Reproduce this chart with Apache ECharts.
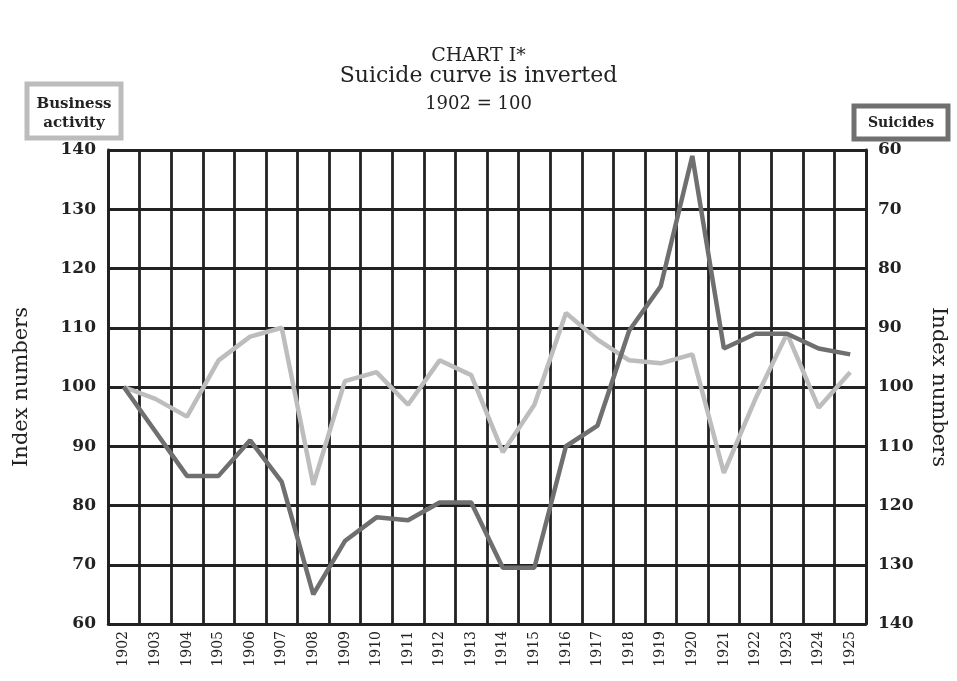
<!DOCTYPE html>
<html>
<head>
<meta charset="utf-8">
<script src="https://cdn.jsdelivr.net/npm/echarts@6/dist/echarts.min.js"></script>
<style>html,body{margin:0;padding:0;background:#fff}#c{width:957px;height:681px}</style>
</head>
<body>
<div id="c"></div>
<script>
var years = ['1902','1903','1904','1905','1906','1907','1908','1909','1910','1911','1912','1913','1914','1915','1916','1917','1918','1919','1920','1921','1922','1923','1924','1925'];
var businessActivity = [100, 98, 95, 104.5, 108.5, 110, 83.5, 101, 102.5, 97, 104.5, 102, 89, 97, 112.5, 108, 104.5, 104, 105.5, 85.5, 98, 109, 96.5, 102.5];
var suicides = [100, 107.5, 115, 115, 109, 116, 135, 126, 122, 122.5, 119.5, 119.5, 130.5, 130.5, 110, 106.5, 90.5, 83, 61, 93.5, 91, 91, 93.5, 94.5];
var yTicks = [60, 70, 80, 90, 100, 110, 120, 130, 140];

var serif = "'DejaVu Serif', 'Liberation Serif', serif";
var chart = echarts.init(document.getElementById('c'));
chart.setOption({
  backgroundColor: '#ffffff',
  animation: false,
  title: [
    {text: 'CHART I*', left: 'center', top: 42, textStyle: {fontFamily: serif, fontSize: 19, fontWeight: 'normal', color: '#222'}},
    {text: 'Suicide curve is inverted', left: 'center', top: 60, textStyle: {fontFamily: serif, fontSize: 22, fontWeight: 'normal', color: '#222'}},
    {text: '1902 = 100', left: 'center', top: 90, textStyle: {fontFamily: serif, fontSize: 18, fontWeight: 'normal', color: '#222'}}
  ],
  grid: {left: 108, right: 90, top: 150, bottom: 57, containLabel: false},
  xAxis: {
    type: 'category',
    data: years,
    boundaryGap: true,
    axisLine: {show: true, lineStyle: {color: '#222', width: 2.5}},
    axisTick: {show: false},
    axisLabel: {rotate: 90, interval: 0, fontFamily: serif, fontSize: 14, color: '#222', margin: 7},
    splitLine: {show: true, interval: 0, lineStyle: {color: '#222', width: 2.8}}
  },
  yAxis: [
    {
      type: 'value', min: 60, max: 140, interval: 10, position: 'left',
      name: 'Index numbers', nameLocation: 'middle', nameGap: 76, nameRotate: 90,
      nameTextStyle: {fontFamily: serif, fontSize: 21, color: '#222'},
      axisLine: {show: true, lineStyle: {color: '#222', width: 2.8}},
      axisTick: {show: false},
      axisLabel: {fontFamily: serif, fontSize: 17, fontWeight: 'bold', color: '#222', margin: 12,
        formatter: function (v) { return yTicks.indexOf(v) >= 0 ? String(v) : ''; }},
      splitLine: {show: true, lineStyle: {color: '#222', width: 2.8}}
    },
    {
      type: 'value', min: 60, max: 140, interval: 10, position: 'right', inverse: true,
      name: 'Index numbers', nameLocation: 'middle', nameGap: 62, nameRotate: -90,
      nameTextStyle: {fontFamily: serif, fontSize: 21, color: '#222'},
      axisLine: {show: true, lineStyle: {color: '#222', width: 2.8}},
      axisTick: {show: false},
      axisLabel: {fontFamily: serif, fontSize: 17, fontWeight: 'bold', color: '#222', margin: 12,
        formatter: function (v) { return yTicks.indexOf(v) >= 0 ? String(v) : ''; }},
      splitLine: {show: false}
    }
  ],
  series: [
    {
      name: 'Business activity', type: 'line', data: businessActivity, yAxisIndex: 0,
      symbol: 'none', lineStyle: {color: '#bdbdbd', width: 4.5}, z: 3
    },
    {
      name: 'Suicides', type: 'line', data: suicides, yAxisIndex: 1,
      symbol: 'none', lineStyle: {color: '#6f6f6f', width: 4.5}, z: 4
    }
  ],
  graphic: [
    {type: 'rect', shape: {x: 27, y: 84, width: 94, height: 54}, style: {fill: '#fff', stroke: '#bcbcbc', lineWidth: 5}},
    {type: 'text', x: 74, y: 104, style: {text: 'Business', fontFamily: serif, fontSize: 15, fontWeight: 'bold', fill: '#222', align: 'center', verticalAlign: 'middle'}},
    {type: 'text', x: 74, y: 123, style: {text: 'activity', fontFamily: serif, fontSize: 15, fontWeight: 'bold', fill: '#222', align: 'center', verticalAlign: 'middle'}},
    {type: 'rect', shape: {x: 854, y: 106, width: 94, height: 33}, style: {fill: '#fff', stroke: '#707070', lineWidth: 5}},
    {type: 'text', x: 901, y: 123, style: {text: 'Suicides', fontFamily: serif, fontSize: 14, fontWeight: 'bold', fill: '#222', align: 'center', verticalAlign: 'middle'}}
  ]
});
</script>
</body>
</html>
